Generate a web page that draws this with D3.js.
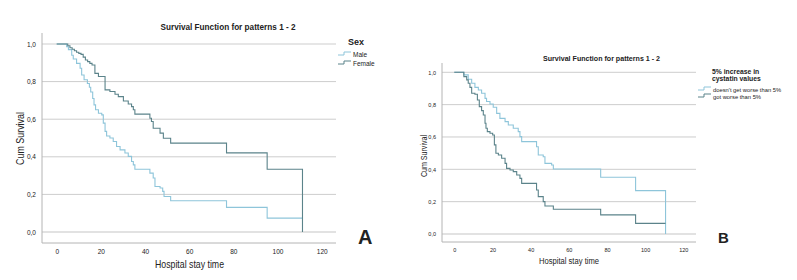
<!DOCTYPE html>
<html lang="en">
<head>
    <meta charset="UTF-8">
    <title>Survival Function for patterns 1 - 2</title>
    <script src="https://d3js.org/d3.v7.min.js"></script>
    <style>
        body { margin: 0; background: #fff; }
        text { font-family: "Liberation Sans", Arial, sans-serif; fill: #222; }
    </style>
</head>
<body>
<svg width="797" height="280"></svg>
<script>
    // ---- data ----
    const chartTitle = "Survival Function for patterns 1 - 2";
    const xTicks = [0, 20, 40, 60, 80, 100, 120];
    const yTicks = [0, 0.2, 0.4, 0.6, 0.8, 1.0];

    // panel A: Sex
    const sexLegendTitle = ["Sex"];
    const sexLabels = ["Male", "Female"];
    const maleTime = [0, 4.5, 5.3, 6.8, 7.5, 9.0, 10.6, 11.3, 12.4, 13.9,
        14.8, 15.4, 16.3, 16.9, 17.6, 18.9, 20.4, 21.1, 21.9, 22.6,
        24.1, 25.6, 27.1, 28.7, 30.9, 32.4, 33.9, 34.7, 35.4, 42.2,
        43.7, 44.5, 46.8, 48.0, 48.6, 51.6, 76.9, 95.3, 111.3];
    const maleSurv = [1, 0.985, 0.97, 0.94, 0.92, 0.897, 0.871, 0.835, 0.81, 0.79,
        0.77, 0.745, 0.71, 0.676, 0.65, 0.632, 0.623, 0.579, 0.535, 0.511,
        0.5, 0.481, 0.455, 0.437, 0.42, 0.402, 0.375, 0.357, 0.334, 0.313,
        0.287, 0.242, 0.234, 0.216, 0.189, 0.166, 0.131, 0.074, 0.074];
    const femaleTime = [0, 5.0, 6.0, 7.0, 8.0, 9.0, 10.0, 11.0, 12.0, 13.0,
        14.0, 15.0, 16.0, 17.3, 18.9, 21.9, 24.1, 26.4, 27.9, 30.2,
        32.4, 33.9, 34.7, 35.4, 42.2, 42.9, 43.7, 46.8, 48.3, 51.6,
        76.9, 95.3, 111.3];
    const femaleSurv = [1, 0.991, 0.98, 0.972, 0.964, 0.956, 0.95, 0.945, 0.93, 0.915,
        0.906, 0.897, 0.888, 0.844, 0.827, 0.756, 0.747, 0.733, 0.72, 0.697,
        0.681, 0.667, 0.65, 0.627, 0.605, 0.588, 0.552, 0.526, 0.499, 0.473,
        0.421, 0.334, 0];

    // panel B: 5% increase in cystatin values
    const cysLegendTitle = ["5% increase in", "cystatin values"];
    const cysLabels = ["doesn't get worse than 5%", "got worse than 5%"];
    const notWorseTime = [0, 5.0, 7.3, 9.1, 10.8, 12.6, 14.3, 16.1, 16.9, 18.7,
        20.4, 22.2, 23.9, 26.6, 28.3, 30.9, 33.5, 34.4, 35.3, 43.1,
        44.0, 46.6, 47.5, 51.0, 51.9, 76.7, 95.0, 110.7];
    const notWorseSurv = [1, 0.984, 0.957, 0.932, 0.907, 0.891, 0.870, 0.839, 0.819, 0.804,
        0.784, 0.746, 0.715, 0.695, 0.674, 0.654, 0.633, 0.602, 0.571, 0.540,
        0.489, 0.478, 0.437, 0.427, 0.402, 0.351, 0.268, 0];
    const worseTime = [0, 5.0, 6.5, 7.3, 8.2, 9.1, 10.8, 12.1, 13.1, 14.3,
        15.2, 16.1, 16.6, 17.3, 18.7, 20.1, 21.0, 21.8, 23.1, 24.8,
        26.6, 27.4, 29.2, 30.9, 32.7, 34.4, 35.3, 43.1, 44.0, 46.6,
        47.5, 51.9, 76.7, 95.0, 110.7];
    const worseSurv = [1, 0.973, 0.953, 0.932, 0.907, 0.870, 0.864, 0.829, 0.788, 0.763,
        0.736, 0.685, 0.654, 0.633, 0.623, 0.612, 0.551, 0.499, 0.489, 0.468,
        0.437, 0.406, 0.396, 0.386, 0.365, 0.344, 0.313, 0.272, 0.231, 0.2,
        0.173, 0.153, 0.118, 0.066, 0.066];

    const lightColor = "#8ec5da";
    const darkColor = "#5b838a";

    const svg = d3.select("svg");
    const commaFmt = d => d3.format(".1f")(d).replace(".", ",");

    function zip(t, s) { return t.map((v, i) => [v, s[i]]); }

    function drawPanel(p) {
        const g = svg.append("g");
        const x = d3.scaleLinear().domain([0, 120]).range([p.x0, p.x120]);
        const y = d3.scaleLinear().domain([0, 1]).range([p.y0, p.y1]);

        // grid lines
        g.selectAll(".grid").data(yTicks).enter().append("line")
            .attr("x1", p.left).attr("x2", p.right)
            .attr("y1", d => y(d)).attr("y2", d => y(d))
            .attr("stroke", d => d === 0 ? "#e2e2e2" : "#cdcdcd")
            .attr("stroke-width", d => d === 0 ? 2 : 1);

        // frame (left + bottom)
        g.append("path")
            .attr("d", `M${p.left},${p.top}V${p.bottom}H${p.right}`)
            .attr("fill", "none").attr("stroke", "#b4b4b4").attr("stroke-width", 1);

        // axes
        const ya = g.append("g").attr("transform", `translate(${p.left - 3},0)`)
            .call(d3.axisLeft(y).tickValues(yTicks).tickSize(0).tickFormat(commaFmt));
        ya.select(".domain").remove();
        ya.selectAll("text").style("font-size", p.tickFont + "px").attr("fill", "#444");

        const xa = g.append("g").attr("transform", `translate(0,${p.bottom + 3})`)
            .call(d3.axisBottom(x).tickValues(xTicks).tickSize(0));
        xa.select(".domain").remove();
        xa.selectAll("text").style("font-size", p.tickFont + "px").attr("fill", "#444");

        // survival step curves
        const line = d3.line().x(d => x(d[0])).y(d => y(d[1])).curve(d3.curveStepAfter);
        p.series.forEach(s => {
            g.append("path")
                .attr("d", line(zip(s.t, s.s)))
                .attr("fill", "none").attr("stroke", s.color).attr("stroke-width", 1.1);
        });

        // titles
        g.append("text").attr("x", p.titleX).attr("y", p.titleY)
            .attr("text-anchor", "middle").style("font-size", p.titleFont + "px")
            .style("font-weight", "bold").attr("textLength", p.titleW)
            .attr("lengthAdjust", "spacingAndGlyphs").text(chartTitle);

        g.append("text").attr("x", p.xTitleX).attr("y", p.xTitleY)
            .attr("text-anchor", "middle").style("font-size", p.axisFont + "px")
            .attr("textLength", p.xTitleW).attr("lengthAdjust", "spacingAndGlyphs")
            .text("Hospital stay time");

        g.append("text")
            .attr("transform", `translate(${p.yTitleX},${p.yTitleY}) rotate(-90)`)
            .attr("text-anchor", "middle").style("font-size", p.axisFont + "px")
            .attr("textLength", p.yTitleW).attr("lengthAdjust", "spacingAndGlyphs")
            .text("Cum Survival");

        // legend
        p.legendTitle.forEach((t, i) => {
            g.append("text").attr("x", p.legX).attr("y", p.legY + i * p.legGap)
                .style("font-size", p.legTitleFont + "px").style("font-weight", "bold")
                .text(t);
        });
        p.series.forEach((s, i) => {
            const yy = p.itemY + i * p.itemGap;
            g.append("path")
                .attr("d", `M${p.symX},${yy}h6v-3h7`)
                .attr("fill", "none").attr("stroke", s.color).attr("stroke-width", 1);
            g.append("text").attr("x", p.symX + 15).attr("y", yy + 2)
                .style("font-size", p.itemFont + "px").attr("fill", "#444").text(s.label);
        });

        // panel letter
        g.append("text").attr("x", p.letterX).attr("y", p.letterY)
            .style("font-size", p.letterFont + "px").style("font-weight", "bold")
            .attr("fill", "#000").text(p.letter);
    }

    drawPanel({
        left: 42, right: 336, top: 33, bottom: 243,
        x0: 56.7, x120: 321.7, y0: 232, y1: 44,
        tickFont: 6.5,
        titleX: 228, titleY: 30, titleFont: 8.5, titleW: 135,
        xTitleX: 189.5, xTitleY: 268, xTitleW: 69, axisFont: 10.5,
        yTitleX: 24, yTitleY: 138.5, yTitleW: 53,
        legendTitle: sexLegendTitle, legX: 348, legY: 45, legGap: 9, legTitleFont: 9,
        symX: 338, itemY: 55, itemGap: 9, itemFont: 6.5,
        letter: "A", letterX: 358, letterY: 244, letterFont: 20,
        series: [
            {t: maleTime, s: maleSurv, color: lightColor, label: sexLabels[0]},
            {t: femaleTime, s: femaleSurv, color: darkColor, label: sexLabels[1]}
        ]
    });

    drawPanel({
        left: 442, right: 696, top: 63, bottom: 242,
        x0: 454.3, x120: 683.3, y0: 234, y1: 72.3,
        tickFont: 5.5,
        titleX: 601.5, titleY: 61, titleFont: 7.5, titleW: 117,
        xTitleX: 569, xTitleY: 264, xTitleW: 60, axisFont: 8.5,
        yTitleX: 427, yTitleY: 156, yTitleW: 42,
        legendTitle: cysLegendTitle, legX: 712, legY: 73.5, legGap: 7.5, legTitleFont: 6.8,
        symX: 698, itemY: 90, itemGap: 7, itemFont: 5.8,
        letter: "B", letterX: 718, letterY: 243, letterFont: 15,
        series: [
            {t: notWorseTime, s: notWorseSurv, color: lightColor, label: cysLabels[0]},
            {t: worseTime, s: worseSurv, color: darkColor, label: cysLabels[1]}
        ]
    });
</script>
</body>
</html>
